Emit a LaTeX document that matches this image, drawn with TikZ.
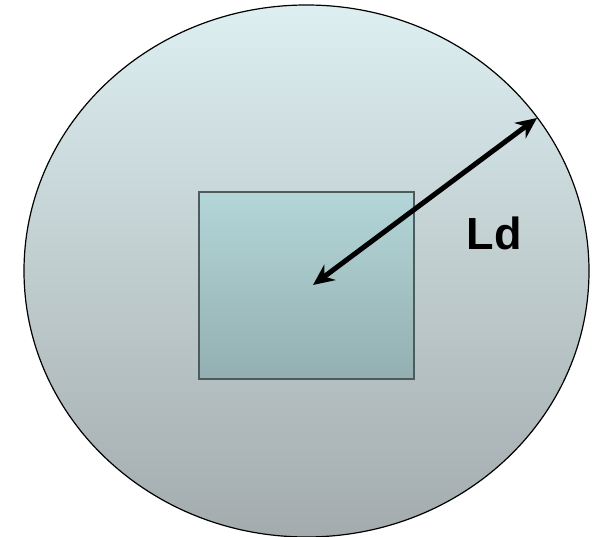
\documentclass[tikz,border=0pt]{standalone}
\usepackage{fontspec}
\setmainfont{Liberation Sans}
\usetikzlibrary{arrows.meta}
\definecolor{circtop}{HTML}{DDEFF1}
\definecolor{circbot}{HTML}{A3ABAD}
\definecolor{recttop}{HTML}{B4D6D8}
\definecolor{rectbot}{HTML}{93AFB1}
\definecolor{rectedge}{HTML}{4C5C5D}
\tikzset{
  region/.style={draw=black, line width=1.2pt, top color=circtop, bottom color=circbot},
  core/.style={draw=rectedge, line width=1.8pt, top color=recttop, bottom color=rectbot},
  radius arrow/.style={line width=5pt, {Stealth[length=21pt,width=19pt]}-{Stealth[length=21pt,width=19pt]}},
  lbl/.style={font=\bfseries\fontsize{45}{45}\selectfont, inner sep=0pt}
}
\begin{document}
\begin{tikzpicture}[x=1pt,y=-1pt]
\useasboundingbox (0,0) rectangle (592,537);
\path[region] (306.5,271) ellipse [x radius=282.5, y radius=266];
\path[core] (199,192) rectangle (414,379);
\coordinate (c) at (313,285);
\coordinate (e) at (537,118);
\draw[radius arrow] (c) -- (e);
\node[lbl] (ld) at (494,233) {Ld};
\end{tikzpicture}
\end{document}
